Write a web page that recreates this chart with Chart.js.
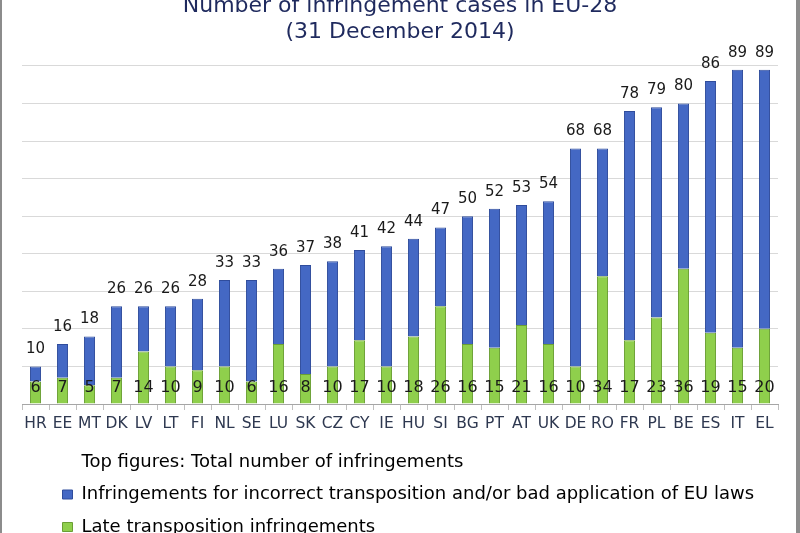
<!DOCTYPE html>
<html>
<head>
<meta charset="utf-8">
<script src="https://cdn.jsdelivr.net/npm/chart.js@4.4.1/dist/chart.umd.min.js"></script>
<style>
  html, body { margin: 0; padding: 0; background: #fff; }
  #wrap { position: relative; width: 800px; height: 533px; overflow: hidden; }
  #wrap:before, #wrap:after { content: ''; position: absolute; top: 0; bottom: 0; background: #8c8c8c; }
  #wrap:before { left: 0; width: 2px; }
  #wrap:after { right: 0; width: 4px; }
</style>
</head>
<body>
<div id="wrap"><canvas id="chart" width="800" height="533"></canvas></div>
<script>
const countries = ['HR', 'EE', 'MT', 'DK', 'LV', 'LT', 'FI', 'NL', 'SE', 'LU', 'SK', 'CZ', 'CY', 'IE',
  'HU', 'SI', 'BG', 'PT', 'AT', 'UK', 'DE', 'RO', 'FR', 'PL', 'BE', 'ES', 'IT', 'EL'];
const totals = [10, 16, 18, 26, 26, 26, 28, 33, 33, 36, 37, 38, 41, 42,
  44, 47, 50, 52, 53, 54, 68, 68, 78, 79, 80, 86, 89, 89];
const lateTransposition = [6, 7, 5, 7, 14, 10, 9, 10, 6, 16, 8, 10, 17, 10,
  18, 26, 16, 15, 21, 16, 10, 34, 17, 23, 36, 19, 15, 20];
const incorrectApplication = [4, 9, 13, 19, 12, 16, 19, 23, 27, 20, 29, 28, 24, 32,
  26, 21, 34, 37, 32, 38, 58, 34, 61, 56, 44, 67, 74, 69];

const titleLines = ['Number of infringement cases in EU-28', '(31 December 2014)'];
const noteText = 'Top figures: Total number of infringements';
const seriesNames = ['Late transposition infringements',
  'Infringements for incorrect transposition and/or bad application of EU laws'];

const FONT = '"DejaVu Sans", Verdana, sans-serif';
const BLUE = '#4468c4', BLUE_EDGE = '#2f4c9c';
const GREEN = '#8fcf4c', GREEN_EDGE = '#6a9e34';

// totals above the stacks, late-transposition counts near the base
const barLabels = {
  id: 'barLabels',
  afterDatasetsDraw(chart) {
    const {ctx, scales: {x, y}} = chart;
    ctx.save();
    ctx.textAlign = 'center';
    ctx.textBaseline = 'middle';
    ctx.fillStyle = '#1a1a1a';
    countries.forEach((c, i) => {
      const px = x.getPixelForValue(i);
      ctx.font = '15px ' + FONT;
      ctx.fillText(String(totals[i]), px, y.getPixelForValue(totals[i]) - 17);
      ctx.font = '16px ' + FONT;
      ctx.fillText(String(lateTransposition[i]), px, y.getPixelForValue(0) - 16);
    });
    ctx.restore();
  }
};

// legend rows start further right than the plot
const legendShift = {
  id: 'legendShift',
  afterLayout(chart) {
    chart.legend.left += 26;
    chart.legend.right += 26;
  }
};

new Chart(document.getElementById('chart'), {
  type: 'bar',
  data: {
    labels: countries,
    datasets: [
      { label: seriesNames[0], data: lateTransposition, backgroundColor: GREEN, borderColor: GREEN_EDGE, borderWidth: 1 },
      { label: seriesNames[1], data: incorrectApplication, backgroundColor: BLUE, borderColor: BLUE_EDGE, borderWidth: 1 }
    ]
  },
  options: {
    responsive: false,
    animation: false,
    layout: { padding: { left: 22, right: 22, top: 0, bottom: -13 } },
    datasets: { bar: { categoryPercentage: 1, barPercentage: 0.41 } },
    scales: {
      x: {
        stacked: true,
        grid: { display: true, drawOnChartArea: false, drawTicks: true, tickLength: 6, color: '#bfbfbf', offset: true },
        border: { display: true, color: '#a6a6a6' },
        ticks: { color: '#2e3850', font: { family: FONT, size: 15.5 }, padding: 5, maxRotation: 0, autoSkip: false },
        afterFit(scale) { scale.height = 34.5; }
      },
      y: {
        stacked: true,
        min: 0, max: 90,
        ticks: { display: false, stepSize: 10 },
        grid: { color: '#d9d9d9', drawTicks: false },
        border: { display: false }
      }
    },
    plugins: {
      title: {
        display: true,
        text: titleLines,
        color: '#1f2a5e',
        font: { family: FONT, size: 22, weight: 'normal', lineHeight: 1.18 },
        padding: { top: -7, bottom: 21 }
      },
      legend: {
        position: 'bottom',
        align: 'start',
        onClick: null,
        labels: {
          boxWidth: 10,
          boxHeight: 9,
          padding: 14.5,
          color: '#1a1a1a',
          font: { family: FONT, size: 18 },
          generateLabels: () => [
            { text: noteText, fillStyle: 'rgba(0,0,0,0)', strokeStyle: 'rgba(0,0,0,0)', lineWidth: 0, hidden: false },
            { text: seriesNames[1], fillStyle: BLUE, strokeStyle: BLUE_EDGE, lineWidth: 1, hidden: false, datasetIndex: 1 },
            { text: seriesNames[0], fillStyle: GREEN, strokeStyle: GREEN_EDGE, lineWidth: 1, hidden: false, datasetIndex: 0 }
          ]
        }
      },
      tooltip: { enabled: false }
    }
  },
  plugins: [barLabels, legendShift]
});
</script>
</body>
</html>
